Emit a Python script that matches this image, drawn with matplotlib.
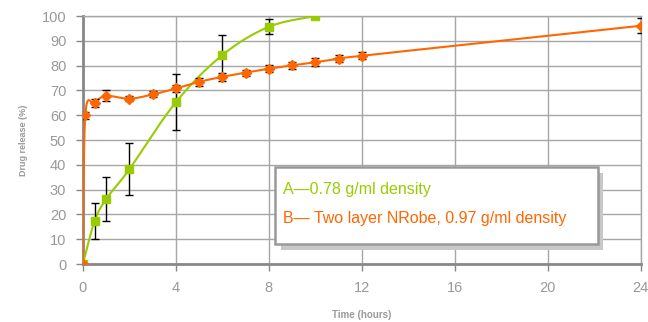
import numpy as np
import matplotlib
matplotlib.use("Agg")
import matplotlib.pyplot as plt
from matplotlib.patches import Rectangle

plt.rcParams['font.family'] = ['Liberation Sans', 'DejaVu Sans']

# series A: 0.78 g/ml density
time_a = [0, 0.5, 1, 2, 4, 6, 8, 10]
rel_a = [0, 17.3, 26.2, 38.3, 65.3, 84.3, 95.7, 100]
err_a = [0, 7.3, 9.0, 10.5, 11.3, 8.0, 3.0, 0]

# series B: two layer NRobe, 0.97 g/ml density
time_b = [0, 0.1, 0.5, 1, 2, 3, 4, 5, 6, 7, 8, 9, 10, 11, 12, 24]
rel_b = [0, 60.0, 65.0, 67.8, 66.7, 68.4, 70.8, 73.5, 75.5, 77.2, 78.8, 80.1, 81.4, 82.8, 84.0, 96.1]
err_b = [0, 1.5, 1.5, 2.2, 1.0, 1.2, 1.5, 1.5, 1.5, 1.2, 1.5, 1.5, 1.5, 1.5, 1.5, 3.0]

green = '#99CC00'
orange = '#FF6600'
grey = '#999999'


def smooth(x, y, sx=23.25, sy=2.48, n=20):
    # Catmull-Rom curve through the points (Excel style smoothed line)
    p = np.column_stack([np.asarray(x) * sx, np.asarray(y) * sy])
    p = np.vstack([p[0], p, p[-1]])
    out = []
    t = np.linspace(0, 1, n)[:, None]
    for i in range(1, len(p) - 2):
        p0, p1, p2, p3 = p[i - 1], p[i], p[i + 1], p[i + 2]
        seg = 0.5 * ((2 * p1) + (-p0 + p2) * t + (2 * p0 - 5 * p1 + 4 * p2 - p3) * t ** 2
                     + (-p0 + 3 * p1 - 3 * p2 + p3) * t ** 3)
        out.append(seg)
    out = np.vstack(out)
    return out[:, 0] / sx, out[:, 1] / sy


fig = plt.figure(figsize=(6.48, 3.22), dpi=100)
ax = fig.add_axes([0.128, 0.180, 0.861, 0.770])

xs, ys = smooth(time_a, rel_a)
ax.plot(xs, ys, color=green, lw=1.5, zorder=3)
ax.errorbar(time_a, rel_a, yerr=err_a, fmt='s', color=green, ms=5.5,
            ecolor='black', elinewidth=1, capsize=3, zorder=4)

xs, ys = smooth(time_b, rel_b)
ax.plot(xs, ys, color=orange, lw=1.5, zorder=5)
ax.errorbar(time_b, rel_b, yerr=err_b, fmt='D', color=orange, ms=5,
            ecolor='black', elinewidth=1, capsize=3, zorder=6)

ax.set_xlim(0, 24)
ax.set_ylim(0, 100)
ax.set_xticks(range(0, 25, 4))
ax.set_yticks(range(0, 101, 10))
ax.grid(True, color='#A6A6A6', lw=1)
ax.set_axisbelow(True)
for s in ax.spines.values():
    s.set_color('#A6A6A6')
    s.set_linewidth(1)
ax.spines['left'].set_color('#888888')
ax.spines['bottom'].set_color('#888888')
ax.spines['left'].set_linewidth(2)
ax.spines['bottom'].set_linewidth(2)
ax.tick_params(colors='#888888', labelcolor=grey, labelsize=10.5, length=5, width=1)
ax.tick_params(axis='x', pad=7)
ax.tick_params(axis='y', pad=7)

ax.set_xlabel('Time (hours)', fontsize=7, fontweight='bold', color=grey, labelpad=11)
ax.set_ylabel('Drug release (%)', fontsize=6.5, fontweight='bold', color=grey, labelpad=10)

# legend-like box with shadow
bx, by, bw, bh = 0.345, 0.08, 0.578, 0.31
ax.add_patch(Rectangle((bx + 0.01, by - 0.024), bw, bh, transform=ax.transAxes,
                       facecolor='#C8C8C8', edgecolor='none', zorder=7))
ax.add_patch(Rectangle((bx, by), bw, bh, transform=ax.transAxes,
                       facecolor='white', edgecolor='#999999', lw=1.8, zorder=8))
ax.text(bx + 0.014, by + bh - 0.09, 'A\u20140.78 g/ml density', transform=ax.transAxes,
        color=green, fontsize=11.5, va='center', zorder=9)
ax.text(bx + 0.014, by + bh - 0.205, 'B\u2014 Two layer NRobe, 0.97 g/ml density',
        transform=ax.transAxes, color=orange, fontsize=11.5, va='center', zorder=9)

fig.savefig('out.png', dpi=100)
